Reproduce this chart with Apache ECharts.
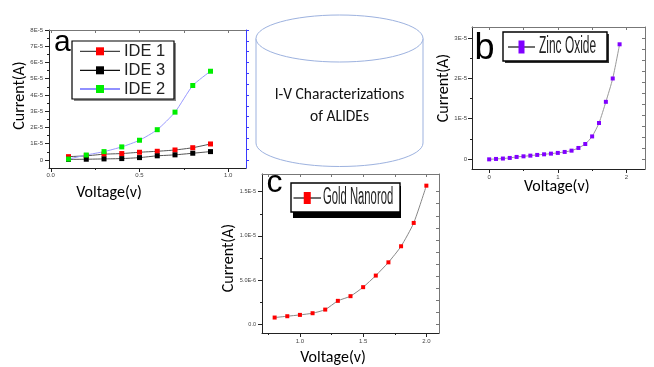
<!DOCTYPE html>
<html><head><meta charset="utf-8">
<script src="https://cdn.jsdelivr.net/npm/echarts@6/dist/echarts.min.js"></script>
<style>html,body{margin:0;padding:0;background:#fff}#c{width:654px;height:367px}</style>
</head><body><div id="c"></div>
<script>
// ---- data (panel a) ----
const voltA = [0.1,0.2,0.3,0.4,0.5,0.6,0.7,0.8,0.9];
const ide1 = [2.0e-6,2.5e-6,3.5e-6,3.9e-6,4.7e-6,5.3e-6,6.1e-6,7.5e-6,9.8e-6];
const ide3 = [0.3e-6,0.4e-6,0.6e-6,0.8e-6,1.4e-6,2.5e-6,3.1e-6,4.1e-6,5.1e-6];
const ide2 = [0.5e-6,3.0e-6,5.1e-6,8.0e-6,1.21e-5,1.86e-5,2.94e-5,4.58e-5,5.46e-5];
const xTicksA = [0,0.5,1.0], xLabelsA = ['0.0','0.5','1.0'], xMinorA = [0.25,0.75];
const yTicksA = [0,1e-5,2e-5,3e-5,4e-5,5e-5,6e-5,7e-5,8e-5];
const yLabelsA = ['0','1E-5','2E-5','3E-5','4E-5','5E-5','6E-5','7E-5','8E-5'];
const yMinorA = [0.5e-5,1.5e-5,2.5e-5,3.5e-5,4.5e-5,5.5e-5,6.5e-5,7.5e-5];
// ---- data (panel b) ----
const voltB = [0,0.1,0.2,0.3,0.4,0.5,0.6,0.7,0.8,0.9,1.0,1.1,1.2,1.3,1.4,1.5,1.6,1.7,1.8,1.9];
const zincOxide = [-0.1e-6,0,0.1e-6,0.25e-6,0.5e-6,0.65e-6,0.82e-6,1.0e-6,1.15e-6,1.32e-6,1.5e-6,1.74e-6,2.06e-6,2.73e-6,3.72e-6,5.6e-6,8.93e-6,1.42e-5,2.0e-5,2.85e-5];
const xTicksB = [0,1,2], xLabelsB = ['0','1','2'], xMinorB = [0.5,1.5];
const yTicksB = [0,1e-5,2e-5,3e-5], yLabelsB = ['0','1E-5','2E-5','3E-5'], yMinorB = [0.5e-5,1.5e-5,2.5e-5];
// ---- data (panel c) ----
const voltC = [0.8,0.9,1.0,1.1,1.2,1.3,1.4,1.5,1.6,1.7,1.8,1.9,2.0];
const goldNanorod = [0.75e-6,0.9e-6,1.05e-6,1.24e-6,1.65e-6,2.64e-6,3.17e-6,4.19e-6,5.5e-6,7.0e-6,8.82e-6,11.46e-6,15.68e-6];
const xTicksC = [1.0,1.5,2.0], xLabelsC = ['1.0','1.5','2.0'], xMinorC = [0.75,1.25,1.75];
const yTicksC = [0,5e-6,1e-5,1.5e-5], yLabelsC = ['0.0','5.0E-6','1.0E-5','1.5E-5'], yMinorC = [2.5e-6,7.5e-6,12.5e-6];

const AXC = '#222';
const TICKFONT = 'Liberation Sans, Arial, sans-serif';
const TITLEFONT = 'Carlito, Calibri, Lato, sans-serif';
function fmt(ticks, labels) {
  return function (v) {
    for (let i = 0; i < ticks.length; i++) {
      if (Math.abs(ticks[i] - v) <= 1e-12 + Math.abs(ticks[i]) * 1e-6) return labels[i];
    }
    return '';
  };
}
function seq(step, n) { const a = []; for (let k = 0; k <= n; k++) a.push(k * step); return a; }

function xAxes(g, min, max, ticks, labels, minor, topTicks, lblMargin) {
  return [
    {type:'value', gridIndex:g, position:'bottom', min:min, max:max,
     axisLine:{onZero:false, lineStyle:{color:AXC, width:1}}, splitLine:{show:false},
     axisTick:{customValues:ticks, length:4, lineStyle:{color:AXC}},
     axisLabel:{customValues:ticks, formatter:fmt(ticks, labels), fontSize:6, color:'#444', margin:lblMargin, fontFamily:TICKFONT}},
    {type:'value', gridIndex:g, position:'bottom', min:min, max:max,
     axisLine:{show:false, onZero:false}, splitLine:{show:false},
     axisTick:{customValues:minor, length:2, lineStyle:{color:AXC}}, axisLabel:{show:false}},
    {type:'value', gridIndex:g, position:'top', min:min, max:max,
     axisLine:{onZero:false, lineStyle:{color:'#777'}}, splitLine:{show:false},
     axisTick:{inside:true, customValues:topTicks, length:3, lineStyle:{color:'#777'}}, axisLabel:{show:false}}
  ];
}
function yAxes(g, min, max, ticks, labels, minor, rightTicks, rightColor, rightInside, lblMargin, fs) {
  return [
    {type:'value', gridIndex:g, position:'left', min:min, max:max,
     axisLine:{onZero:false, lineStyle:{color:AXC, width:1}}, splitLine:{show:false},
     axisTick:{customValues:ticks, length:4, lineStyle:{color:AXC}},
     axisLabel:{customValues:ticks, formatter:fmt(ticks, labels), fontSize:fs, color:'#444', margin:lblMargin, fontFamily:TICKFONT}},
    {type:'value', gridIndex:g, position:'left', min:min, max:max,
     axisLine:{show:false, onZero:false}, splitLine:{show:false},
     axisTick:{customValues:minor, length:2, lineStyle:{color:AXC}}, axisLabel:{show:false}},
    {type:'value', gridIndex:g, position:'right', min:min, max:max,
     axisLine:{onZero:false, lineStyle:{color:rightColor, width:1}}, splitLine:{show:false},
     axisTick:{inside:rightInside, customValues:rightTicks, length:3, lineStyle:{color:rightColor}}, axisLabel:{show:false}}
  ];
}

const chart = echarts.init(document.getElementById('c'), null, {renderer:'canvas'});

function legendItem(x0, x1, y, lineColor, markColor, mw, mh, text, tx, fs, sx) {
  return [
    {type:'line', shape:{x1:x0, y1:y, x2:x1, y2:y}, style:{stroke:lineColor, lineWidth:1.3}, z:101},
    {type:'rect', shape:{x:(x0+x1)/2 - mw/2, y:y - mh/2, width:mw, height:mh}, style:{fill:markColor}, z:102},
    {type:'text', x:tx, y:y, scaleX:sx, z:102,
     style:{text:text, fontSize:fs, fontFamily:'Liberation Sans, Arial, sans-serif', fill:'#222', textAlign:'left', textVerticalAlign:'middle'}}
  ];
}

const CYL = '#9db2df';
const graphics = [
  // cylinder
  {type:'ellipse', shape:{cx:339.5, cy:143, rx:83.5, ry:23.5}, style:{fill:'#fff', stroke:CYL, lineWidth:1}, z:1},
  {type:'rect', shape:{x:255, y:38.5, width:169, height:104.5}, style:{fill:'#fff'}, z:2},
  {type:'line', shape:{x1:256, y1:38.5, x2:256, y2:143}, style:{stroke:CYL, lineWidth:1}, z:3},
  {type:'line', shape:{x1:423, y1:38.5, x2:423, y2:143}, style:{stroke:CYL, lineWidth:1}, z:3},
  {type:'ellipse', shape:{cx:339.5, cy:38.5, rx:83.5, ry:23.5}, style:{fill:'#fff', stroke:CYL, lineWidth:1}, z:4},
  {type:'text', x:339.5, y:95, z:5, style:{text:'I-V Characterizations', fontSize:15.5, fontFamily:TITLEFONT, fill:'#111', textAlign:'center', textVerticalAlign:'middle'}},
  {type:'text', x:339.5, y:117, z:5, style:{text:'of ALIDEs', fontSize:15.5, fontFamily:TITLEFONT, fill:'#111', textAlign:'center', textVerticalAlign:'middle'}},
  // panel letters
  {type:'text', x:54, y:42.5, z:110, style:{text:'a', fontSize:30, fontFamily:'Liberation Sans, Arial, sans-serif', fill:'#000', textAlign:'left', textVerticalAlign:'middle'}},
  {type:'text', x:474.5, y:49, z:110, style:{text:'b', fontSize:36, fontFamily:'Liberation Sans, Arial, sans-serif', fill:'#000', textAlign:'left', textVerticalAlign:'middle'}},
  {type:'text', x:266.5, y:183, z:110, style:{text:'c', fontSize:32, fontFamily:'Liberation Sans, Arial, sans-serif', fill:'#000', textAlign:'left', textVerticalAlign:'middle'}},
  // axis titles
  {type:'text', x:20, y:95.5, rotation:Math.PI/2, z:110, style:{text:'Current(A)', fontSize:16, fontFamily:TITLEFONT, fill:'#000', textAlign:'center', textVerticalAlign:'middle'}},
  {type:'text', x:444, y:88, rotation:Math.PI/2, z:110, style:{text:'Current(A)', fontSize:16, fontFamily:TITLEFONT, fill:'#000', textAlign:'center', textVerticalAlign:'middle'}},
  {type:'text', x:229, y:258, rotation:Math.PI/2, z:110, style:{text:'Current(A)', fontSize:16, fontFamily:TITLEFONT, fill:'#000', textAlign:'center', textVerticalAlign:'middle'}},
  {type:'text', x:109, y:193, z:110, style:{text:'Voltage(v)', fontSize:16, fontFamily:TITLEFONT, fill:'#000', textAlign:'center', textVerticalAlign:'middle'}},
  {type:'text', x:556.7, y:187, z:110, style:{text:'Voltage(v)', fontSize:16, fontFamily:TITLEFONT, fill:'#000', textAlign:'center', textVerticalAlign:'middle'}},
  {type:'text', x:333, y:358, z:110, style:{text:'Voltage(v)', fontSize:16, fontFamily:TITLEFONT, fill:'#000', textAlign:'center', textVerticalAlign:'middle'}},
  // legend a
  {type:'rect', shape:{x:74, y:43, width:102, height:58}, style:{fill:'#888'}, z:99},
  {type:'rect', shape:{x:72, y:41, width:102, height:58}, style:{fill:'#fff', stroke:'#000', lineWidth:1.2}, z:100},
  ...legendItem(80, 120, 51.3, '#444', '#ff0000', 8, 8, 'IDE 1', 124, 16.5, 1),
  ...legendItem(80, 120, 70.3, '#111', '#000000', 8, 8, 'IDE 3', 124, 16.5, 1),
  ...legendItem(80, 120, 89, '#6b6bff', '#00ee00', 8, 8, 'IDE 2', 124, 16.5, 1),
  // legend b
  {type:'rect', shape:{x:505, y:34, width:104, height:29}, style:{fill:'#333'}, z:99},
  {type:'rect', shape:{x:503, y:32, width:104, height:29}, style:{fill:'#fff', stroke:'#000', lineWidth:1.4}, z:100},
  ...legendItem(508, 535, 47, '#222', '#8000ff', 6, 13, 'Zinc Oxide', 539, 23, 0.52),
  // legend c
  {type:'rect', shape:{x:293, y:186, width:108, height:32}, style:{fill:'#000'}, z:99},
  {type:'rect', shape:{x:291, y:183, width:109, height:29}, style:{fill:'#fff', stroke:'#000', lineWidth:1.4}, z:100},
  ...legendItem(293.5, 321, 198, '#222', '#ff0000', 7, 12, 'Gold Nanorod', 323, 23, 0.49)
];

const option = {
  animation: false,
  backgroundColor: '#fff',
  grid: [
    {left:49, top:30, width:197, height:138},
    {left:472, top:27, width:173, height:142},
    {left:262, top:174, width:177, height:159}
  ],
  xAxis: [
    ...xAxes(0, -0.01, 1.1, xTicksA, xLabelsA, xMinorA, [0,0.25,0.5,0.75,1.0], 4),
    ...xAxes(1, -0.25, 2.27, xTicksB, xLabelsB, xMinorB, [0,0.5,1,1.5,2], 5),
    ...xAxes(2, 0.7, 2.1, xTicksC, xLabelsC, xMinorC, [0.75,1.0,1.25,1.5,1.75,2.0], 5)
  ],
  yAxis: [
    ...yAxes(0, -0.5e-5, 8e-5, yTicksA, yLabelsA, yMinorA, seq(8e-5/12, 12), '#3a3aff', false, 6, 6),
    ...yAxes(1, -0.25e-5, 3.28e-5, yTicksB, yLabelsB, yMinorB, seq(3e-5/11, 11), '#777', true, 5, 6),
    ...yAxes(2, -1e-6, 1.7e-5, yTicksC, yLabelsC, yMinorC, seq(1.5e-5/11, 11), '#777', true, 6, 5.5)
  ],
  series: [
    {type:'line', name:'IDE 1', xAxisIndex:0, yAxisIndex:0, data:voltA.map((v,i)=>[v, ide1[i]]),
     symbol:'rect', symbolSize:5, smooth:0.2, lineStyle:{color:'#555', width:1}, itemStyle:{color:'#ff0000'}},
    {type:'line', name:'IDE 3', xAxisIndex:0, yAxisIndex:0, data:voltA.map((v,i)=>[v, ide3[i]]),
     symbol:'rect', symbolSize:5, smooth:0.2, lineStyle:{color:'#555', width:1}, itemStyle:{color:'#000'}},
    {type:'line', name:'IDE 2', xAxisIndex:0, yAxisIndex:0, data:voltA.map((v,i)=>[v, ide2[i]]),
     symbol:'rect', symbolSize:5, smooth:0.2, lineStyle:{color:'#9a9aff', width:1}, itemStyle:{color:'#00ee00'}},
    {type:'line', name:'Zinc Oxide', xAxisIndex:3, yAxisIndex:3, data:voltB.map((v,i)=>[v, zincOxide[i]]),
     symbol:'rect', symbolSize:4, smooth:0.2, lineStyle:{color:'#999', width:1}, itemStyle:{color:'#8000ff'}},
    {type:'line', name:'Gold Nanorod', xAxisIndex:6, yAxisIndex:6, data:voltC.map((v,i)=>[v, goldNanorod[i]]),
     symbol:'rect', symbolSize:4, smooth:0.2, lineStyle:{color:'#888', width:1}, itemStyle:{color:'#ff0000'}}
  ],
  graphic: graphics
};
chart.setOption(option);
</script>
</body></html>
